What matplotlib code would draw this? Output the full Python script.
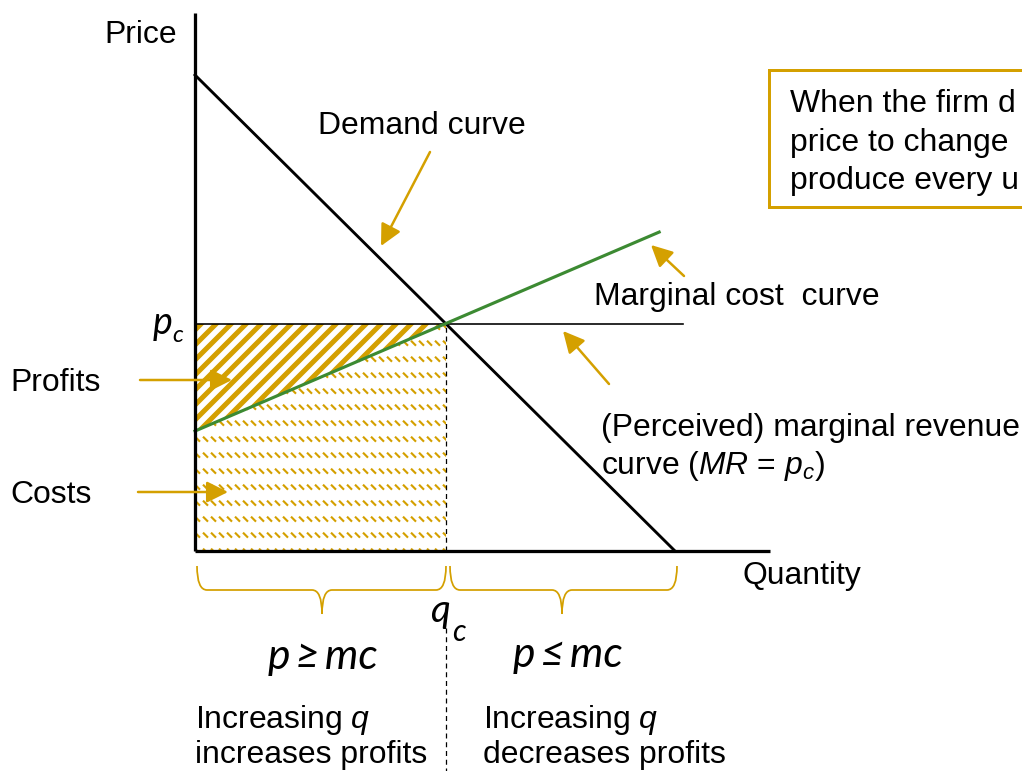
import numpy as np
import matplotlib
matplotlib.use("Agg")
import matplotlib.pyplot as plt
from matplotlib.patches import Polygon, Rectangle, PathPatch
from matplotlib.collections import LineCollection
from matplotlib.path import Path
from matplotlib.transforms import Affine2D, blended_transform_factory

plt.rcParams['font.family'] = ['Liberation Sans', 'DejaVu Sans']
plt.rcParams['mathtext.fontset'] = 'custom'
plt.rcParams['mathtext.rm'] = 'Liberation Sans'
plt.rcParams['mathtext.it'] = 'Liberation Sans:italic'
plt.rcParams['hatch.linewidth'] = 4.0

#### data (quantity / price units)
demand_q = [0, 10]
demand_p = [10, 0]
mc_q = [0, 9.67]
mc_p = [2.52, 6.70]
p_c = 4.77
q_c = 5.23
mr_end = 10.17
q_axis_max = 11.98
p_axis_max = 11.3

# the box text is cut by the right edge of the slide
box_lines = ['When the firm d', 'price to change', 'produce every u']

gold = '#D4A000'
green = '#3C8A32'

W, H, DPI = 1022, 771, 90
fig = plt.figure(figsize=(W / DPI, H / DPI), dpi=DPI)
ax = fig.add_axes([0, 0, 1, 1])
# origin of the diagram sits at pixel (195, 551); 48 px per q unit, 47.6 px per p unit
ax.set_xlim(-195 / 48, (W - 195) / 48)
ax.set_ylim((551 - H) / 47.6, 551 / 47.6)
ax.axis('off')

# pixel transform (top-left origin) for labels and annotations
pix = Affine2D().scale(1 / W, -1 / H).translate(0, 1) + fig.transFigure
fs = 25.5  # ~32 px

def mc_at(q):
    return np.interp(q, mc_q, mc_p)

## shaded areas
qs = np.array([0, q_c])
ax.fill_between(qs, mc_at(qs), p_c, facecolor='none', edgecolor=gold,
                hatch='//', linewidth=0, zorder=1)

cost_poly = Polygon([(0, 0), (q_c, 0), (q_c, mc_at(q_c)), (0, mc_at(0))],
                    closed=True, facecolor='none', edgecolor='none')
ax.add_patch(cost_poly)
rows = np.arange(0.05, mc_at(q_c) + 0.4, 0.336)
cols = np.arange(0, q_c + 0.2, 8 / 48)
segs = [[(c, r), (c + 5 / 48, r - 5 / 47.6)] for r in rows for c in cols]
lc = LineCollection(segs, colors=gold, linewidths=1.7, zorder=1)
lc.set_clip_path(cost_poly)
ax.add_collection(lc)

## axes
ax.plot([0, 0], [0, p_axis_max], color='black', lw=2.6, solid_capstyle='butt', zorder=4)
ax.plot([0, q_axis_max], [0, 0], color='black', lw=2.6, solid_capstyle='butt', zorder=4)

## curves
ax.plot(demand_q, demand_p, color='black', lw=2.3, zorder=3)
ax.plot([0, mr_end], [p_c, p_c], color='black', lw=1.3, zorder=3)
ax.plot(mc_q, mc_p, color=green, lw=2.5, zorder=3)
ax.plot([q_c, q_c], [0, p_c], color='black', lw=1.0, ls=(0, (4, 3)), zorder=3)
low = blended_transform_factory(ax.transData, pix)
ax.plot([q_c, q_c], [628, H], color='black', lw=1.0, ls=(0, (4, 3)), transform=low)

## labels
def label(x, y, s, size=fs, **kw):
    fig.text(x / W, 1 - y / H, s, fontsize=size, va='baseline', **kw)

label(104, 43, 'Price')
label(318, 134, 'Demand curve')
label(594, 305, 'Marginal cost  curve')
label(601, 436, '(Perceived) marginal revenue')
label(601, 474, 'curve ($MR$ = $p_c$)')
label(742, 584, 'Quantity')
label(10, 391, 'Profits')
label(10, 503, 'Costs')
label(195, 728, 'Increasing $q$')
label(195, 763, 'increases profits')
label(483, 728, 'Increasing $q$')
label(483, 763, 'decreases profits')

cal = ['Lato', 'DejaVu Sans']
label(153, 334, 'p', size=30, family=cal, style='italic')
label(172, 342, 'c', size=19, family=cal, style='italic')
label(430, 622, 'q', size=31, family=cal, style='italic')
label(452, 641, 'c', size=24, family=cal, style='italic')
label(268, 669, 'p\u2009\u2265\u2009mc', size=34, family=cal, style='italic')
label(513, 667, 'p\u2009\u2264\u2009mc', size=34, family=cal, style='italic')

## text box on the right, cut by the figure edge
box = Rectangle((769, 70), 300, 137, transform=pix, facecolor='white',
                edgecolor=gold, lw=2.4, zorder=5)
fig.add_artist(box)
for i, line in enumerate(box_lines):
    label(790, 112 + 38.5 * i, line, zorder=6)

## arrows
arrows = [((430, 152), (381, 246)),
          ((684, 276), (651, 245)),
          ((609, 384), (563, 331)),
          ((140, 380), (232, 380)),
          ((138, 492), (228, 492))]
for tail, head in arrows:
    ax.annotate('', xy=head, xytext=tail, xycoords=pix, textcoords=pix,
                arrowprops=dict(arrowstyle='-|>,head_length=0.6,head_width=0.3',
                                color=gold, lw=2.0, mutation_scale=24,
                                shrinkA=0, shrinkB=0), zorder=6)

## braces below the quantity axis
def brace(x0, x1, xc, y0=566, ym=590, ytip=614, r=10):
    verts = [(x0, y0), (x0, ym), (x0 + r, ym), (xc - r, ym), (xc, ym), (xc, ytip),
             (xc, ytip), (xc, ym), (xc + r, ym), (x1 - r, ym), (x1, ym), (x1, y0)]
    codes = [Path.MOVETO, Path.CURVE3, Path.CURVE3, Path.LINETO, Path.CURVE3, Path.CURVE3,
             Path.MOVETO, Path.CURVE3, Path.CURVE3, Path.LINETO, Path.CURVE3, Path.CURVE3]
    fig.add_artist(PathPatch(Path(verts, codes), transform=pix, facecolor='none',
                             edgecolor=gold, lw=1.4))

brace(197, 446, 322)
brace(450, 677, 562)

plt.savefig('out.png', dpi=DPI)
